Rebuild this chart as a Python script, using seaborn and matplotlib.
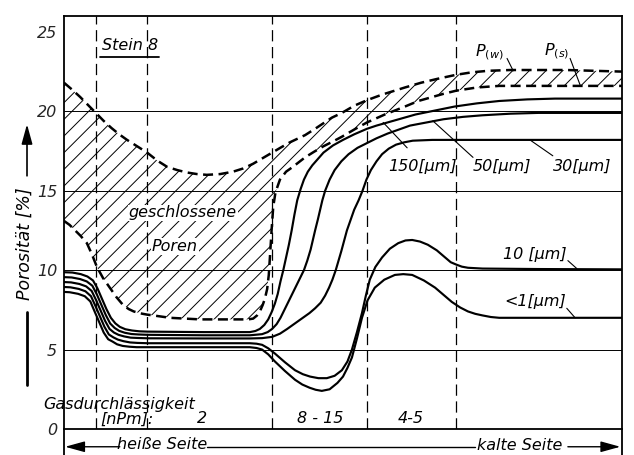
import matplotlib
matplotlib.use("Agg")
import matplotlib.pyplot as plt
import pandas as pd
import seaborn as sns

# Position through the brick: 0 = hot face, 100 = cold face; porosity in %
pw_x = [0, 1.5, 2.9, 4.3, 5.7, 7.1, 8.5, 9.9, 11.3, 13.1, 14.9, 16.7, 18.5, 20.3, 22.0,
        23.8, 25.6, 28.0, 30.3, 32.1, 33.9, 35.6, 37.3, 39.0, 40.5, 42.0, 43.2, 45.0,
        46.5, 48.0, 49.8, 52.0, 54.3, 57.0, 61.1, 64.0, 67.0, 70.3, 73.0, 76.0, 80, 90, 100]
pw_y = [21.8, 21.35, 20.9, 20.4, 19.9, 19.4, 18.95, 18.55, 18.2, 17.8, 17.4, 16.9, 16.5,
        16.3, 16.15, 16.05, 16.0, 16.05, 16.2, 16.4, 16.7, 17.05, 17.4, 17.75, 18.05, 18.3,
        18.5, 18.9, 19.25, 19.6, 19.9, 20.35, 20.7, 21.05, 21.5, 21.8, 22.05, 22.3, 22.45,
        22.55, 22.6, 22.6, 22.5]

ps_x = [0, 1.0, 2.0, 3.0, 4.1, 5.0, 5.9, 7.0, 8.2, 9.4, 10.6, 11.6, 12.5, 13.7, 14.9, 17,
        19.0, 24.4, 30, 33.0, 33.9, 34.6, 35.1, 35.6, 36.0, 36.4, 36.7, 36.9, 37.2, 37.5,
        37.9, 38.7, 39.8, 41.0, 42.1, 43.2, 44.8, 46.5, 48.2, 49.8, 52.0, 54.3, 57.5,
        61.1, 63.5, 66.0, 68.0, 70.3, 74, 78.0, 100]
ps_y = [13.1, 12.85, 12.5, 12.15, 11.7, 11.0, 10.2, 9.5, 8.9, 8.3, 7.8, 7.55, 7.4, 7.28,
        7.2, 7.1, 7.0, 6.9, 6.9, 6.9, 6.95, 7.15, 7.4, 7.8, 8.2, 8.8, 9.7, 10.8, 12.5, 14.0,
        14.9, 15.7, 16.2, 16.5, 16.8, 17.1, 17.45, 17.8, 18.1, 18.4, 18.85, 19.3, 19.8,
        20.3, 20.65, 20.9, 21.1, 21.3, 21.5, 21.6, 21.6]

d150_x = [0, 1.5, 3.0, 4.2, 5.2, 6.0, 6.8, 7.6, 8.4, 9.2, 10.0, 11.0, 12.2, 13.5, 15, 25,
          33.3, 34.3, 35.1, 35.9, 36.6, 37.2, 37.8, 38.3, 38.8, 39.3, 39.8, 40.3, 40.8,
          41.3, 41.8, 42.4, 43.0, 43.7, 44.5, 45.5, 46.5, 48.2, 50.0, 52.0, 54.3, 56.0,
          58.0, 60.5, 63.0, 66.5, 70.0, 74, 78.0, 83, 88.0, 100]
d150_y = [9.87, 9.85, 9.75, 9.6, 9.35, 8.85, 8.2, 7.55, 7.0, 6.65, 6.43, 6.28, 6.2, 6.15,
          6.13, 6.1, 6.1, 6.17, 6.3, 6.55, 6.9, 7.35, 7.9, 8.5, 9.3, 10.0, 10.8, 11.6, 12.5,
          13.5, 14.4, 15.1, 15.7, 16.2, 16.6, 17.0, 17.4, 17.85, 18.2, 18.55, 18.9, 19.1,
          19.3, 19.55, 19.8, 20.05, 20.3, 20.5, 20.65, 20.75, 20.8, 20.8]

d50_x = [0, 1.38, 2.88, 4.08, 5.08, 5.88, 6.68, 7.48, 8.28, 9.08, 9.88, 10.88, 12.08, 13.38,
         15, 25, 33.3, 35.5, 36.5, 37.3, 38.1, 38.8, 39.5, 40.2, 40.9, 41.6, 42.3, 43.0,
         43.6, 44.2, 44.6, 45.0, 45.5, 45.9, 46.3, 46.8, 47.6, 48.5, 49.7, 51.0, 52.6, 54.3,
         56.0, 58.0, 60.0, 62.0, 65.0, 68.0, 71.5, 75.0, 80, 85.0, 100]
d50_y = [9.56, 9.54, 9.44, 9.29, 9.02, 8.48, 7.83, 7.18, 6.64, 6.36, 6.18, 6.06, 5.98,
         5.95, 5.93, 5.9, 5.9, 5.97, 6.1, 6.3, 6.6, 7.0, 7.5, 8.0, 8.5, 9.0, 9.5, 10.0, 10.6,
         11.3, 11.9, 12.5, 13.2, 13.8, 14.4, 15.0, 15.7, 16.3, 16.85, 17.3, 17.7, 18.0, 18.3,
         18.6, 18.85, 19.1, 19.3, 19.5, 19.65, 19.75, 19.85, 19.9, 19.9]

d30_x = [0, 1.26, 2.76, 3.96, 4.96, 5.76, 6.56, 7.36, 8.16, 8.96, 9.76, 10.76, 11.96, 13.26,
         15, 25, 33.3, 35.5, 37.3, 38.7, 40.0, 42.0, 44.0, 45.0, 46.0, 46.8, 47.5, 48.1, 48.7,
         49.2, 49.7, 50.2, 50.7, 51.3, 52.0, 52.8, 53.5, 54.2, 55.0, 56.0, 57.0, 58.2, 59.5,
         61.0, 62.5, 66, 70.0, 100]
d30_y = [9.25, 9.23, 9.13, 8.98, 8.69, 8.11, 7.46, 6.81, 6.3, 6.07, 5.93, 5.83, 5.75, 5.73,
         5.71, 5.7, 5.7, 5.72, 5.8, 6.0, 6.3, 6.8, 7.3, 7.6, 7.95, 8.4, 8.9, 9.4, 10.0, 10.6,
         11.2, 11.85, 12.5, 13.1, 13.8, 14.4, 15.0, 15.7, 16.3, 16.85, 17.3, 17.65, 17.9,
         18.05, 18.15, 18.2, 18.2, 18.2]

d10_x = [0, 1.14, 2.64, 3.84, 4.84, 5.64, 6.44, 7.24, 8.04, 8.84, 9.64, 10.64, 11.84, 13.14,
         15, 25, 33.3, 34.5, 35.5, 36.6, 37.8, 39.6, 41.4, 42.8, 44.1, 45.6, 47.1, 48.5, 49.8,
         50.8, 51.6, 52.5, 53.4, 54.1, 54.8, 55.8, 57.0, 58.4, 59.9, 61.2, 62.4, 63.8, 65.2,
         66.8, 68.3, 69.3, 70.3, 71.3, 72.4, 75.0, 85, 100]
d10_y = [8.94, 8.92, 8.82, 8.67, 8.36, 7.74, 7.09, 6.44, 5.95, 5.77, 5.63, 5.53, 5.45, 5.42,
         5.4, 5.4, 5.4, 5.37, 5.3, 5.08, 4.75, 4.2, 3.7, 3.45, 3.3, 3.2, 3.2, 3.35, 3.7, 4.25,
         5.0, 6.1, 7.3, 8.4, 9.4, 10.2, 10.8, 11.35, 11.7, 11.87, 11.9, 11.8, 11.6, 11.25,
         10.8, 10.5, 10.35, 10.22, 10.15, 10.1, 10.07, 10.05]

d1_x = [0, 1.02, 2.52, 3.72, 4.72, 5.52, 6.32, 7.12, 7.92, 8.72, 9.52, 10.52, 11.72, 13.02,
        15, 25, 33.3, 34.5, 35.5, 36.6, 37.8, 39.6, 41.4, 42.7, 44.0, 45.1, 46.2, 47.6, 49.0,
        50.0, 50.8, 51.6, 52.5, 53.4, 54.4, 55.7, 57.4, 59.3, 60.8, 62.4, 64.5, 66.5, 68.0,
        69.5, 71.0, 72.4, 73.7, 75.0, 76.5, 78.0, 100]
d1_y = [8.63, 8.61, 8.51, 8.36, 8.03, 7.37, 6.72, 6.07, 5.65, 5.5, 5.33, 5.23, 5.18, 5.15,
        5.15, 5.15, 5.15, 5.1, 5.0, 4.7, 4.25, 3.65, 3.1, 2.8, 2.6, 2.47, 2.4, 2.5, 2.9, 3.3,
        3.85, 4.5, 5.7, 7.0, 8.1, 8.9, 9.4, 9.7, 9.75, 9.7, 9.35, 8.9, 8.45, 8.0, 7.65, 7.4,
        7.25, 7.15, 7.05, 7.0, 7.0]

# Zone boundaries and gas permeability of each zone
zone_edges = [5.7, 14.9, 37.3, 54.3, 70.3]
perm_labels = ["2", "8 - 15", "4-5"]
perm_pos = [24.7, 45.9, 62.2]

y_ticks = [0, 5, 10, 15, 20, 25]
grid_levels = [5, 10, 15, 20]

sns.set_theme(style="white")
plt.rcParams["font.family"] = ["DejaVu Sans"]
plt.rcParams["hatch.linewidth"] = 0.7
plt.rcParams["mathtext.fontset"] = "dejavusans"

fig = plt.figure(figsize=(6.34, 4.55), dpi=100)
ax = fig.add_axes([64 / 634, 26 / 455, 558 / 634, 413 / 455])
ax.set_xlim(0, 100)
ax.set_ylim(0, 26.0)

for g in grid_levels:
    ax.axhline(g, color="black", lw=0.7, zorder=1)
for xv in zone_edges:
    ax.axvline(xv, color="black", lw=0.9, ls=(0, (9, 4.5)), zorder=1)

# closed pores: band between total and open porosity
ax.fill(pw_x + ps_x[::-1], pw_y + ps_y[::-1], facecolor="none",
        edgecolor="black", hatch="//", lw=0, zorder=1.5)


def curve(x, y, dashed=False):
    df = pd.DataFrame({"pos": x, "por": y})
    sns.lineplot(data=df, x="pos", y="por", ax=ax, color="black",
                 lw=1.8 if dashed else 1.55, sort=False, estimator=None,
                 ls=(0, (4, 2.2)) if dashed else "-", zorder=4)


curve(pw_x, pw_y, dashed=True)
curve(ps_x, ps_y, dashed=True)
for cx, cy in [(d150_x, d150_y), (d50_x, d50_y), (d30_x, d30_y),
               (d10_x, d10_y), (d1_x, d1_y)]:
    curve(cx, cy)

for s in ax.spines.values():
    s.set_visible(True)
    s.set_color("black")
    s.set_linewidth(1.3)

ax.set_xticks([])
ax.set_yticks(y_ticks)
ax.set_yticklabels([str(t) for t in y_ticks])
ax.tick_params(axis="y", length=0, pad=5, labelsize=11.5)
for lbl in ax.get_yticklabels():
    lbl.set_style("italic")
ax.set_xlabel("")
ax.set_ylabel("")

it = dict(style="italic", color="black")

# title and region label
ax.text(11.8, 24.15, "Stein 8", ha="center", va="center", fontsize=11.5, **it)
ax.plot([0.0645, 0.170], [0.9007, 0.9007], transform=ax.transAxes, color="black", lw=1.3)
box = dict(facecolor="white", edgecolor="none", pad=0.6)
ax.text(21.3, 13.6, "geschlossene", ha="center", va="center", fontsize=11.5,
        bbox=box, zorder=3, **it)
ax.text(19.9, 11.5, "Poren", ha="center", va="center", fontsize=11.5,
        bbox=box, zorder=3, **it)

# curve labels with leader lines
labels = [
    (r"$P_{(w)}$", (76.3, 23.7), (79.4, 23.33), (80.5, 22.55)),
    (r"$P_{(s)}$", (88.2, 23.8), (90.7, 23.33), (92.5, 21.65)),
    ("150[µm]", (64.2, 16.5), (61.5, 17.7), (57.2, 19.3)),
    ("50[µm]", (78.5, 16.5), (73.3, 17.1), (66.1, 19.4)),
    ("30[µm]", (92.8, 16.5), (87.6, 17.2), (83.5, 18.2)),
    ("10 [µm]", (84.4, 11.0), (90.3, 10.6), (91.9, 10.1)),
    ("<1[µm]", (84.4, 8.0), (90.1, 7.6), (91.6, 7.0)),
]
for txt, tpos, l0, l1 in labels:
    ax.text(*tpos, txt, ha="center", va="center", fontsize=11.5, **it)
    ax.plot([l0[0], l1[0]], [l0[1], l1[1]], color="black", lw=0.8, zorder=4)

# gas permeability row
ax.text(-3.76, 1.57, "Gasdurchlässigkeit", ha="left", va="center", fontsize=11.5, **it)
ax.text(11.3, 0.63, "[nPm]:", ha="center", va="center", fontsize=11.5, **it)
for lab, xp in zip(perm_labels, perm_pos):
    ax.text(xp, 0.63, lab, ha="center", va="center", fontsize=11.5, **it)

# hot side / cold side arrow below the plot
yb = -0.043
arrow = dict(arrowstyle="-|>,head_length=0.8,head_width=0.22", color="black",
             lw=1.0, mutation_scale=15, shrinkA=0, shrinkB=0)
ax.annotate("", xy=(0.002, yb), xytext=(0.10, yb), xycoords="axes fraction",
            arrowprops=arrow)
ax.annotate("", xy=(0.997, yb), xytext=(0.903, yb), xycoords="axes fraction",
            arrowprops=arrow)
ax.plot([0.256, 0.737], [yb, yb], transform=ax.transAxes, color="black", lw=1.0,
        clip_on=False)
ax.text(0.176, -0.038, "heiße Seite", transform=ax.transAxes, ha="center",
        va="center", fontsize=11.5, **it)
ax.text(0.817, -0.041, "kalte Seite", transform=ax.transAxes, ha="center",
        va="center", fontsize=11.5, **it)
for xe in (0.0, 1.0):
    ax.plot([xe, xe], [0, -0.064], transform=ax.transAxes, color="black", lw=1.3,
            clip_on=False)

# vertical axis title with upward arrow
xa = -0.0663
ax.text(-0.071, 0.449, "Porosität [%]", transform=ax.transAxes, rotation=90,
        ha="center", va="center", fontsize=12.5, **it)
ax.plot([xa, xa], [0.107, 0.283], transform=ax.transAxes, color="black", lw=2.0,
        clip_on=False)
ax.annotate("", xy=(xa, 0.738), xytext=(xa, 0.613), xycoords="axes fraction",
            arrowprops=dict(arrowstyle="-|>,head_length=0.8,head_width=0.22",
                            color="black", lw=1.2, mutation_scale=15,
                            shrinkA=0, shrinkB=0))

fig.savefig("out.png", dpi=100)
